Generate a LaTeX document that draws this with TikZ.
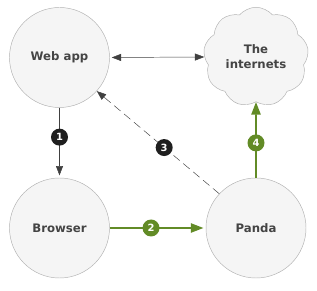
\documentclass[tikz,border=0pt]{standalone}
\usepackage{fontspec}
\setmainfont{DejaVu Sans}
\usepackage{tikz}
\usetikzlibrary{shapes.symbols,arrows.meta,positioning}

\definecolor{pandagreen}{RGB}{98,139,38}
\definecolor{textgray}{RGB}{68,68,68}

\begin{document}
\begin{tikzpicture}[x=0.03cm, y=0.03cm,
  bubble/.style={circle, draw=gray!60, fill=gray!8, minimum size=3cm, inner sep=0pt,
    text=textgray, font=\fontsize{10}{13}\selectfont\bfseries},
  badge/.style={circle, fill=black!88, text=white, minimum size=0.51cm, inner sep=0pt,
    font=\fontsize{8.5}{8.5}\selectfont\bfseries},
  greenbadge/.style={badge, fill=pandagreen},
  link/.style={-{Triangle[length=2.8mm,width=2.1mm]}, draw=black!75, thin},
  greenlink/.style={-{Triangle[length=3.8mm,width=2.8mm]}, draw=pandagreen, line width=1.4pt}]
  % Rahmen
  \useasboundingbox (0,0) rectangle (317,291);

  % Knoten
  \node[bubble] (webapp) at (59.5,233.5) {Web app};
  \node[bubble] (browser) at (59.5,63) {Browser};
  \node[bubble] (panda) at (256,63) {Panda};
  \node[cloud, cloud puffs=9, cloud puff arc=100, aspect=1.08,
    draw=gray!60, fill=gray!8, minimum width=3.05cm, minimum height=2.8cm,
    text=textgray, align=center, font=\fontsize{10}{13}\selectfont\bfseries]
    (internets) at (256,234) {The\\internets};

  % Verbindungen
  \draw[link, {Triangle[length=2.8mm,width=2.1mm]}-{Triangle[length=2.8mm,width=2.1mm]}]
    (webapp.east) ++(2,0) -- (internets.west);
  \draw[link, shorten >=2pt] (webapp.south) -- node[badge, pos=0.42] (one) {1} (browser.north);
  \draw[greenlink, shorten >=2pt] (browser.east) -- node[greenbadge, pos=0.43] (two) {2} (panda.west);
  \draw[link, dash pattern=on 7pt off 4pt] (panda.137) -- node[badge, pos=0.45] (three) {3} (webapp.-42);
  \draw[greenlink] (panda.north) -- node[greenbadge, pos=0.46] (four) {4} (internets.south);
\end{tikzpicture}
\end{document}
